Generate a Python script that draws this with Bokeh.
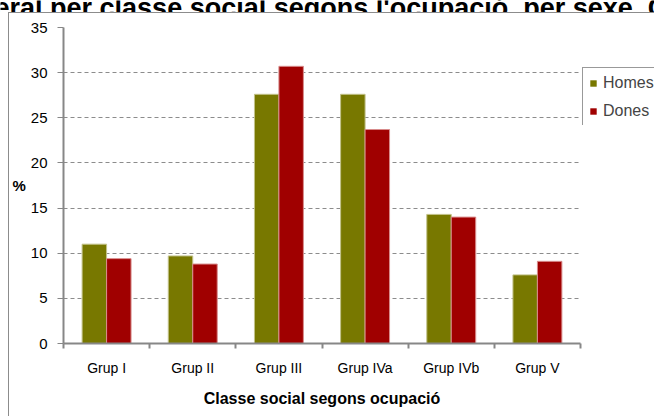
from bokeh.plotting import figure
from bokeh.models import (Range1d, FixedTicker, ColumnDataSource, Legend, LegendItem, Label)
from bokeh.transform import dodge
from bokeh.embed import file_html
from bokeh.resources import INLINE

# ---- data ----
categories = ["Grup I", "Grup II", "Grup III", "Grup IVa", "Grup IVb", "Grup V"]
homes = [11.0, 9.7, 27.6, 27.6, 14.3, 7.6]
dones = [9.4, 8.8, 30.7, 23.7, 14.0, 9.1]
y_ticks = [0, 5, 10, 15, 20, 25, 30, 35]
series_names = ["Homes", "Dones"]
title_text = "eral per classe social segons l'ocupació, per sexe. C"
x_title = "Classe social segons ocupació"
y_title = "%"

FONT = "Liberation Sans"
GRAY = "#878787"
BORDER = "#8c8c8c"
C_HOMES = "#787800"
C_DONES = "#a00000"

pos = list(range(len(categories)))
src = ColumnDataSource(dict(x=pos, homes=homes, dones=dones))

# ================= main chart =================
p = figure(width=654, height=416, output_backend="svg", toolbar_location=None,
           x_range=Range1d(-0.5, len(categories) - 0.5), y_range=Range1d(0, 35),
           min_border_left=63, min_border_right=74, min_border_top=27, min_border_bottom=73)
p.styles = {
    "position": "absolute", "left": "0px", "top": "0px",
    "background": (f"linear-gradient({BORDER},{BORDER}) 8px 12px / 1px 500px no-repeat, "
                   f"linear-gradient({BORDER},{BORDER}) 8px 12px / 800px 1px no-repeat, #ffffff"),
}
p.outline_line_color = None
p.background_fill_color = "white"
p.border_fill_alpha = 0

bw = 0.284
p.vbar(x=dodge("x", -bw / 2), top="homes", width=bw, source=src,
       fill_color=C_HOMES, line_color="#c2c28a", line_width=1)
p.vbar(x=dodge("x", bw / 2), top="dones", width=bw, source=src,
       fill_color=C_DONES, line_color="#d88c8c", line_width=1)

# x axis
xa = p.xaxis[0]
xa.ticker = FixedTicker(ticks=pos, minor_ticks=[i - 0.5 for i in range(len(categories) + 1)])
xa.major_label_overrides = {i: c for i, c in enumerate(categories)}
xa.major_tick_out = 0
xa.major_tick_in = 0
xa.minor_tick_out = 5
xa.minor_tick_in = 0
xa.minor_tick_line_color = GRAY
xa.minor_tick_line_width = 2
xa.axis_line_color = GRAY
xa.axis_line_width = 2
xa.major_label_standoff = 11
xa.major_label_text_font = FONT
xa.major_label_text_font_size = "14px"
xa.major_label_text_color = "black"
xa.axis_label = x_title
xa.axis_label_text_font = FONT
xa.axis_label_text_font_size = "16px"
xa.axis_label_text_font_style = "bold"
xa.axis_label_text_color = "black"
xa.axis_label_standoff = 11

# y axis
ya = p.yaxis[0]
ya.ticker = FixedTicker(ticks=y_ticks, minor_ticks=[])
ya.major_tick_out = 6
ya.major_tick_in = 0
ya.minor_tick_out = 0
ya.minor_tick_in = 0
ya.major_tick_line_color = GRAY
ya.major_tick_line_width = 1
ya.axis_line_color = GRAY
ya.axis_line_width = 2
ya.major_label_standoff = 10
ya.major_label_text_font = FONT
ya.major_label_text_font_size = "15px"
ya.major_label_text_color = "black"
ya.axis_label = y_title
ya.axis_label_orientation = "horizontal"
ya.axis_label_text_font = FONT
ya.axis_label_text_font_size = "15px"
ya.axis_label_text_font_style = "bold"
ya.axis_label_text_color = "black"
ya.axis_label_standoff = 2

p.xgrid.visible = False
p.ygrid.ticker = FixedTicker(ticks=y_ticks)
p.ygrid.grid_line_color = "#8c8c8c"
p.ygrid.grid_line_dash = "4 3"
p.ygrid.grid_line_width = 1

# ================= cropped title strip (top of the window) =================
t = figure(width=654, height=12, output_backend="svg", toolbar_location=None,
           x_range=Range1d(0, 654), y_range=Range1d(0, 12),
           x_axis_location=None, y_axis_location=None, min_border=0)
t.styles = {"position": "absolute", "left": "0px", "top": "0px"}
t.grid.visible = False
t.outline_line_color = None
t.background_fill_alpha = 0
t.border_fill_alpha = 0
t.add_layout(Label(x=-6, y=5, text=title_text, text_font=FONT, text_font_size="27px",
                   text_font_style="bold", text_color="black",
                   text_align="left", text_baseline="alphabetic"))

# ================= legend box (right edge, cropped) =================
q = figure(width=72, height=58, output_backend="svg", toolbar_location=None,
           x_range=Range1d(100, 101), y_range=Range1d(100, 101),
           x_axis_location=None, y_axis_location=None, min_border=0)
q.styles = {"position": "absolute", "left": "582px", "top": "67px"}
q.grid.visible = False
q.outline_line_color = None
q.background_fill_color = "white"
q.border_fill_color = "white"
lh = q.vbar(x="x", top="homes", width=bw, source=src, fill_color=C_HOMES, line_color=None)
ld = q.vbar(x="x", top="dones", width=bw, source=src, fill_color=C_DONES, line_color=None)
legend = Legend(items=[LegendItem(label=series_names[0], renderers=[lh]),
                       LegendItem(label=series_names[1], renderers=[ld])],
                location="top_left", margin=0, padding=6, spacing=10,
                glyph_width=8, glyph_height=8, label_standoff=6,
                label_text_font=FONT, label_text_font_size="16px",
                border_line_color="#333333", border_line_width=1,
                background_fill_color="white", background_fill_alpha=1)
q.add_layout(legend)

open("out.html", "w").write(file_html([p, t, q], INLINE))
